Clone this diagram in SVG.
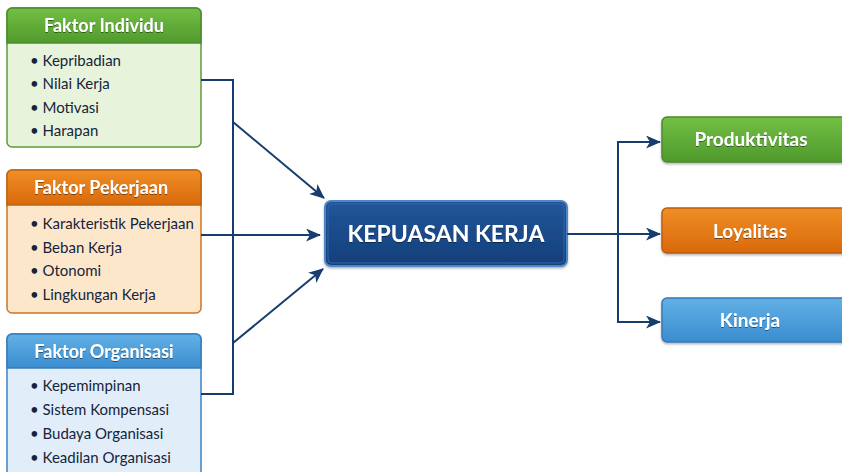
<svg xmlns="http://www.w3.org/2000/svg" width="842" height="472" viewBox="0 0 842 472">
<defs>
<linearGradient id="gGreen" x1="0" y1="0" x2="0" y2="1"><stop offset="0" stop-color="#74bf45"/><stop offset="1" stop-color="#4f9a2c"/></linearGradient>
<linearGradient id="gOrange" x1="0" y1="0" x2="0" y2="1"><stop offset="0" stop-color="#f08e25"/><stop offset="1" stop-color="#d9690c"/></linearGradient>
<linearGradient id="gBlue" x1="0" y1="0" x2="0" y2="1"><stop offset="0" stop-color="#62b0e6"/><stop offset="1" stop-color="#3b8dcf"/></linearGradient>
<linearGradient id="gNavy" x1="0" y1="0" x2="0" y2="1"><stop offset="0" stop-color="#22569a"/><stop offset="1" stop-color="#143f7a"/></linearGradient>
<marker id="arr" markerWidth="15" markerHeight="13" refX="14" refY="6.5" orient="auto" markerUnits="userSpaceOnUse" viewBox="0 0 15 13"><path d="M0,0 L15,6.5 L0,13 L4,6.5 Z" fill="#173c6e"/></marker>
<filter id="ts" x="-10%" y="-10%" width="120%" height="130%"><feDropShadow dx="0" dy="1" stdDeviation="0.6" flood-color="#000" flood-opacity="0.45"/></filter>
<filter id="bs" x="-5%" y="-5%" width="110%" height="115%"><feDropShadow dx="0" dy="1.5" stdDeviation="1.2" flood-color="#000" flood-opacity="0.3"/></filter>
</defs>
<style>
.hd{font-family:Lato,"Open Sans",sans-serif;font-weight:bold;font-size:18px;fill:#fff;text-anchor:middle}
.it{font-family:Lato,"Open Sans",sans-serif;font-size:15px;fill:#15243c}
.ctr{font-family:Lato,"Open Sans",sans-serif;font-weight:bold;font-size:23px;fill:#fff;text-anchor:middle}
.out{font-family:Lato,"Open Sans",sans-serif;font-weight:bold;font-size:19px;fill:#fff;text-anchor:middle}
.ln{fill:none;stroke:#173c6e;stroke-width:2}
</style>
<rect width="842" height="472" fill="#ffffff"/>

<g id="faktor-individu">
<rect x="7" y="8" width="194" height="139" rx="5" fill="#e7f3da" stroke="#5e9a3c" stroke-width="1.5"/>
<path d="M7,43 V13 a5,5 0 0 1 5,-5 H196 a5,5 0 0 1 5,5 V43 Z" fill="url(#gGreen)" stroke="#4e8a2e" stroke-width="1.5"/>
<text class="hd" x="104" y="32" filter="url(#ts)">Faktor Individu</text>
<text class="it" x="30" y="66">• Kepribadian</text>
<text class="it" x="30" y="89">• Nilai Kerja</text>
<text class="it" x="30" y="113">• Motivasi</text>
<text class="it" x="30" y="136">• Harapan</text>
</g>

<g id="faktor-pekerjaan">
<rect x="7" y="170" width="194" height="143" rx="5" fill="#fde7cb" stroke="#c9762a" stroke-width="1.5"/>
<path d="M7,205 V175 a5,5 0 0 1 5,-5 H196 a5,5 0 0 1 5,5 V205 Z" fill="url(#gOrange)" stroke="#c0650f" stroke-width="1.5"/>
<text class="hd" x="101" y="194" filter="url(#ts)">Faktor Pekerjaan</text>
<text class="it" x="30" y="229">• Karakteristik Pekerjaan</text>
<text class="it" x="30" y="253">• Beban Kerja</text>
<text class="it" x="30" y="276">• Otonomi</text>
<text class="it" x="30" y="300">• Lingkungan Kerja</text>
</g>

<g id="faktor-organisasi">
<rect x="7" y="334" width="194" height="150" rx="5" fill="#e1eef9" stroke="#3f82c2" stroke-width="1.5"/>
<path d="M7,368 V339 a5,5 0 0 1 5,-5 H196 a5,5 0 0 1 5,5 V368 Z" fill="url(#gBlue)" stroke="#3a7cbc" stroke-width="1.5"/>
<text class="hd" x="104" y="358" filter="url(#ts)">Faktor Organisasi</text>
<text class="it" x="30" y="391">• Kepemimpinan</text>
<text class="it" x="30" y="415">• Sistem Kompensasi</text>
<text class="it" x="30" y="439">• Budaya Organisasi</text>
<text class="it" x="30" y="463">• Keadilan Organisasi</text>
</g>

<g id="kepuasan-kerja">
<rect x="325" y="201" width="242" height="65" rx="6" fill="url(#gNavy)" stroke="#4f86c6" stroke-width="2" filter="url(#bs)"/>
<rect x="328" y="204" width="236" height="59" rx="4" fill="none" stroke="#2e67ab" stroke-width="1"/>
<text class="ctr" x="446" y="242" filter="url(#ts)">KEPUASAN KERJA</text>
</g>

<g id="produktivitas">
<rect x="662" y="117" width="186" height="45" rx="5" fill="url(#gGreen)" stroke="#4e8a2e" stroke-width="1.5" filter="url(#bs)"/>
<text class="out" x="751" y="146" filter="url(#ts)">Produktivitas</text>
</g>
<g id="loyalitas">
<rect x="662" y="208" width="186" height="45" rx="5" fill="url(#gOrange)" stroke="#b85f10" stroke-width="1.5" filter="url(#bs)"/>
<text class="out" x="750" y="238" filter="url(#ts)">Loyalitas</text>
</g>
<g id="kinerja">
<rect x="662" y="298" width="186" height="44" rx="5" fill="url(#gBlue)" stroke="#3478b6" stroke-width="1.5" filter="url(#bs)"/>
<text class="out" x="750" y="327" filter="url(#ts)">Kinerja</text>
</g>

<g id="connectors">
<polyline class="ln" points="201,80 233,80 233,394 201,394"/>
<line class="ln" x1="233" y1="122" x2="324" y2="198" marker-end="url(#arr)"/>
<line class="ln" x1="201" y1="235" x2="320" y2="235" marker-end="url(#arr)"/>
<line class="ln" x1="233" y1="343" x2="323" y2="269" marker-end="url(#arr)"/>
<line class="ln" x1="567" y1="234" x2="660" y2="234" marker-end="url(#arr)"/>
<polyline class="ln" points="650,142 618,142 618,322 650,322"/>
<line class="ln" x1="640" y1="142" x2="660" y2="142" marker-end="url(#arr)"/>
<line class="ln" x1="640" y1="322" x2="660" y2="322" marker-end="url(#arr)"/>
</g>
</svg>
